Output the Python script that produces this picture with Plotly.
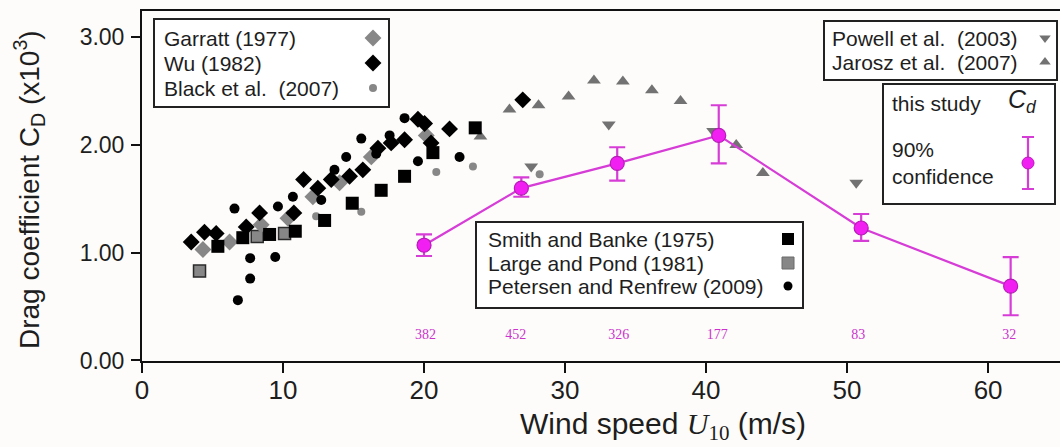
import plotly.graph_objects as go

# ---------------- data: wind speed U10 (m/s) and drag coefficient Cd (x10^3) ----------------
garratt_u = [4.32, 6.21, 8.45, 10.35, 12.12, 14.01, 16.26, 20.16]
garratt_cd = [1.03, 1.10, 1.26, 1.32, 1.52, 1.65, 1.89, 2.09]

wu_u = [3.49, 4.43, 5.26, 7.39, 8.34, 10.77, 11.46, 12.47, 13.42, 14.72, 15.66, 16.73,
        17.67, 18.62, 19.57, 20.04, 20.50, 21.81, 27.0]
wu_cd = [1.10, 1.19, 1.18, 1.24, 1.37, 1.37, 1.68, 1.60, 1.68, 1.71, 1.77, 1.97,
         2.02, 2.05, 2.24, 2.20, 2.02, 2.15, 2.42]

black_u = [12.35, 15.55, 20.87, 23.47, 28.2]
black_cd = [1.34, 1.38, 1.75, 1.80, 1.73]

smith_u = [5.38, 7.15, 9.05, 10.87, 12.95, 14.91, 16.96, 18.62, 20.63, 23.63]
smith_cd = [1.06, 1.14, 1.17, 1.20, 1.30, 1.46, 1.58, 1.71, 1.93, 2.16]

large_u = [4.08, 8.17, 10.11]
large_cd = [0.83, 1.15, 1.18]

petersen_u = [6.80, 7.67, 7.67, 9.45, 6.56, 9.64, 10.70, 12.71, 13.65, 14.48, 15.55,
              16.61, 17.56, 18.62, 19.57, 22.52]
petersen_cd = [0.56, 0.76, 0.95, 0.96, 1.41, 1.43, 1.52, 1.49, 1.77, 1.89, 2.06,
               1.92, 2.09, 2.25, 1.85, 1.89]

powell_u = [27.6, 33.1, 40.5, 50.65]
powell_cd = [1.80, 2.19, 2.13, 1.65]

jarosz_u = [24.0, 26.06, 28.12, 30.25, 32.05, 34.1, 36.16, 38.19, 42.14, 44.03]
jarosz_cd = [2.08, 2.33, 2.37, 2.45, 2.60, 2.59, 2.51, 2.41, 2.00, 1.74]

# this study: bin-averaged Cd with 90% confidence limits and sample counts
study_u = [20.0, 26.9, 33.7, 40.9, 51.0, 61.6]
study_cd = [1.07, 1.60, 1.83, 2.09, 1.23, 0.69]
study_hi = [1.17, 1.70, 1.98, 2.37, 1.36, 0.96]
study_lo = [0.97, 1.52, 1.67, 1.83, 1.11, 0.42]
study_n = [382, 452, 326, 177, 83, 32]
count_u = [20.1, 26.5, 33.8, 40.8, 50.8, 61.5]
count_level = 0.235

x_ticks = [0, 10, 20, 30, 40, 50, 60]
y_ticks = [0.0, 1.0, 2.0, 3.0]

# ---------------- styling ----------------
W, H = 1060, 447
L, R, T, B = 142, 0, 11, 86
PW, PH = W - L - R, H - T - B
SANS = "Liberation Sans, Arial, sans-serif"
SERIF = "Liberation Serif, Times New Roman, serif"
INK = "#1e1e1e"
GRAY = "#878787"
TRI = "#727272"
MAG_FILL = "#f21ff2"
MAG_EDGE = "#b41cb4"
MAG_LINE = "#d63cd6"
BG = "#fdfcfa"


def px_to_paper(px, py):
    """Convert a pixel position in the figure to paper coordinates."""
    return (px - L) / PW, (H - B - py) / PH


fig = go.Figure()


def scatter(u, cd, symbol, size, color, edge=None, edge_w=0):
    fig.add_trace(go.Scatter(
        x=u, y=cd, mode="markers", showlegend=False, hoverinfo="skip",
        marker=dict(symbol=symbol, size=size, color=color,
                    line=dict(color=edge or color, width=edge_w)),
    ))


scatter(powell_u, powell_cd, "triangle-down", 12, TRI)
scatter(jarosz_u, jarosz_cd, "triangle-up", 12, TRI)
scatter(large_u, large_cd, "square", 12, GRAY, "#2a2a2a", 1.5)
scatter(garratt_u, garratt_cd, "diamond", 13, GRAY)
scatter(black_u, black_cd, "circle", 8, GRAY)
scatter(smith_u, smith_cd, "square", 13, "#000000")
scatter(wu_u, wu_cd, "diamond", 13, "#000000")
scatter(petersen_u, petersen_cd, "circle", 10, "#000000")

# this study: connected means with 90% confidence error bars
fig.add_trace(go.Scatter(
    x=study_u, y=study_cd, mode="lines+markers", showlegend=False, hoverinfo="skip",
    line=dict(color=MAG_LINE, width=2.2),
    marker=dict(symbol="circle", size=14, color=MAG_FILL, line=dict(color=MAG_EDGE, width=1.2)),
    error_y=dict(type="data", symmetric=False,
                 array=[h - c for h, c in zip(study_hi, study_cd)],
                 arrayminus=[c - l for c, l in zip(study_cd, study_lo)],
                 color=MAG_LINE, thickness=2.2, width=8),
))

# sample counts per wind-speed bin
fig.add_trace(go.Scatter(
    x=count_u, y=[count_level] * len(count_u), mode="text", showlegend=False,
    hoverinfo="skip", text=[str(n) for n in study_n],
    textfont=dict(family=SERIF, size=14, color="#cc33cc"),
))

# ---------------- legend panels (drawn on a pixel-unit overlay axis) ----------------
legend_boxes = [
    (154, 19, 389, 107),
    (824, 21, 1057, 80),
    (883, 84, 1055, 204),
    (476, 222, 803, 308),
]
legend_rows = [
    # text, text_x, row_y, key_x, symbol, size, fill, edge, edge_w
    ("Garratt (1977)", 162, 38, 373, "diamond", 13, GRAY, GRAY, 0),
    ("Wu (1982)", 162, 63, 373, "diamond", 13, "#000000", "#000000", 0),
    ("Black et al.  (2007)", 162, 88, 373, "circle", 8, GRAY, GRAY, 0),
    ("Powell et al.  (2003)", 830, 38, 1045, "triangle-down", 10, TRI, TRI, 0),
    ("Jarosz et al.  (2007)", 830, 62, 1045, "triangle-up", 10, TRI, TRI, 0),
    ("Smith and Banke (1975)", 486, 239, 788, "square", 12, "#000000", "#000000", 0),
    ("Large and Pond (1981)", 486, 263, 788, "square", 12, GRAY, "#6a6a6a", 1),
    ("Petersen and Renfrew (2009)", 486, 286, 788, "circle", 9, "#000000", "#000000", 0),
]

shapes = []
for x0, y0, x1, y1 in legend_boxes:
    shapes.append(dict(type="rect", xref="x2", yref="y2", x0=x0, y0=y0, x1=x1, y1=y1,
                       line=dict(color="#222222", width=2), fillcolor="#ffffff", layer="below"))

annotations = []
for text, tx, ty, kx, sym, sz, fill, edge, ew in legend_rows:
    annotations.append(dict(xref="x2", yref="y2", x=tx, y=ty, text=text, showarrow=False,
                            xanchor="left", yanchor="middle",
                            font=dict(family=SANS, size=21, color=INK)))
    fig.add_trace(go.Scatter(
        x=[kx], y=[ty], xaxis="x2", yaxis="y2", mode="markers", showlegend=False,
        hoverinfo="skip",
        marker=dict(symbol=sym, size=sz, color=fill, line=dict(color=edge, width=ew)),
    ))

# "this study" panel
annotations += [
    dict(xref="x2", yref="y2", x=890, y=103, text="this study", showarrow=False,
         xanchor="left", yanchor="middle", font=dict(family=SANS, size=21, color=INK)),
    dict(xref="x2", yref="y2", x=1006, y=101, text="<i>C</i><sub><i>d</i></sub>",
         showarrow=False, xanchor="left", yanchor="middle",
         font=dict(family=SANS, size=25, color=INK)),
    dict(xref="x2", yref="y2", x=890, y=163, text="90%<br>confidence", showarrow=False,
         xanchor="left", yanchor="middle", align="left",
         font=dict(family=SANS, size=21, color=INK)),
]
fig.add_trace(go.Scatter(
    x=[1028], y=[163], xaxis="x2", yaxis="y2", mode="markers", showlegend=False,
    hoverinfo="skip",
    marker=dict(symbol="circle", size=12, color=MAG_FILL, line=dict(color=MAG_EDGE, width=1)),
    error_y=dict(type="constant", value=26, color=MAG_LINE, thickness=2.2, width=6),
))

# axis titles (paper coordinates, outside the plotting area)
xt_x, xt_y = px_to_paper(663, 426)
yt_x, yt_y = px_to_paper(29, 190)
annotations += [
    dict(xref="paper", yref="paper", x=xt_x, y=xt_y,
         text=("Wind speed <span style='font-family:Liberation Serif'><i>U</i>"
               "<sub>10</sub></span> (m/s)"),
         showarrow=False, xanchor="center", yanchor="middle",
         font=dict(family=SANS, size=30, color=INK)),
    dict(xref="paper", yref="paper", x=yt_x, y=yt_y,
         text="Drag coefficient C<sub>D</sub> (x10<sup>3</sup>)",
         showarrow=False, textangle=-90, xanchor="center", yanchor="middle",
         font=dict(family=SANS, size=28, color=INK)),
]

fig.update_layout(
    width=W, height=H,
    margin=dict(l=L, r=R, t=T, b=B, pad=0),
    paper_bgcolor=BG, plot_bgcolor=BG,
    showlegend=False,
    shapes=shapes,
    annotations=annotations,
    xaxis=dict(range=[0, 65.1], tickvals=x_ticks, ticktext=[str(v) for v in x_ticks],
               showgrid=False, zeroline=False, showline=True, linecolor="#111111",
               linewidth=2, mirror=True, ticks="outside", ticklen=10, tickwidth=2,
               tickcolor="#111111", ticklabelstandoff=-5,
               tickfont=dict(family=SANS, size=26, color=INK)),
    yaxis=dict(range=[-0.005, 3.245], tickvals=y_ticks, tickformat=".2f",
               showgrid=False, zeroline=False, showline=True, linecolor="#111111",
               linewidth=2, ticks="outside", ticklen=9, tickwidth=2,
               tickcolor="#111111", ticklabelstandoff=2,
               tickfont=dict(family=SANS, size=23, color=INK)),
    xaxis2=dict(overlaying="x", range=[L, W], visible=False, fixedrange=True),
    yaxis2=dict(overlaying="y", range=[H - B, T], visible=False, fixedrange=True),
)

fig.write_html("out.html")
